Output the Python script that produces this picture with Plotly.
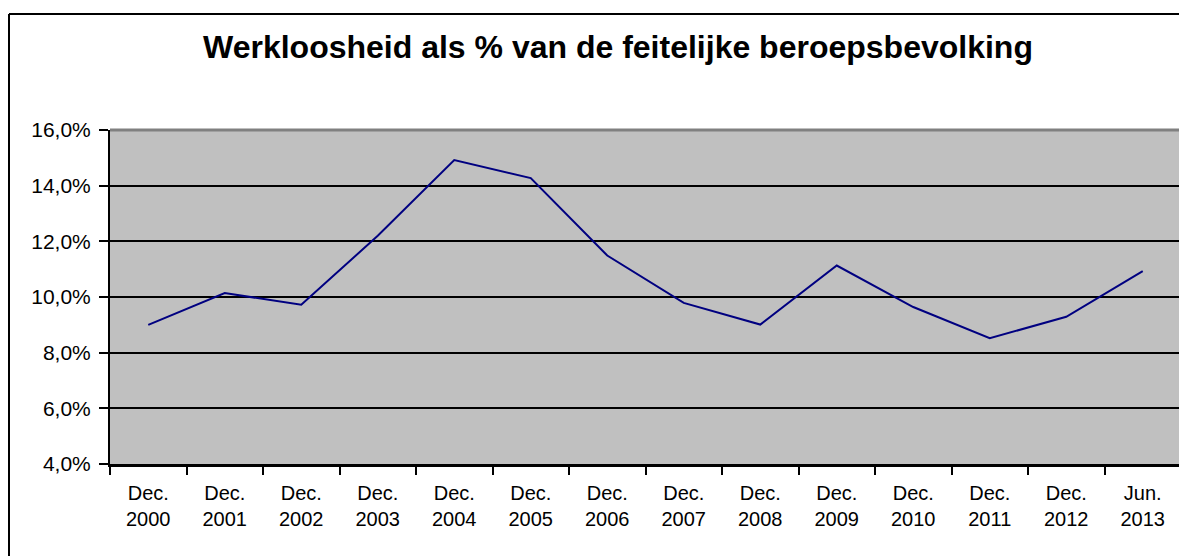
import plotly.graph_objects as go

periods = ["Dec.<br>2000", "Dec.<br>2001", "Dec.<br>2002", "Dec.<br>2003", "Dec.<br>2004",
           "Dec.<br>2005", "Dec.<br>2006", "Dec.<br>2007", "Dec.<br>2008", "Dec.<br>2009",
           "Dec.<br>2010", "Dec.<br>2011", "Dec.<br>2012", "Jun.<br>2013"]
unemployment_pct = [9.0, 10.14, 9.72, 12.2, 14.92, 14.27, 11.49, 9.79, 9.01, 11.13,
                    9.64, 8.52, 9.29, 10.93]
y_ticks = [4, 6, 8, 10, 12, 14, 16]
y_tick_labels = ["4,0%", "6,0%", "8,0%", "10,0%", "12,0%", "14,0%", "16,0%"]
title_text = "Werkloosheid als % van de feitelijke beroepsbevolking"

FONT = "Liberation Sans, Arial, sans-serif"

# page body has an 8px margin, so the figure is sized/positioned to compensate
W, H = 1179, 548
L, R, T, B = 102, 6, 122, 92
pw, ph = W - L - R, H - T - B

fig = go.Figure()
fig.add_trace(go.Scatter(
    x=periods, y=unemployment_pct, mode="lines",
    line=dict(color="#000080", width=2), hoverinfo="skip", showlegend=False,
))

fx = (1 - L) / pw          # outer frame left edge (paper coords)
fy = (ph + T - 6) / ph     # outer frame top edge (paper coords)

fig.update_layout(
    width=W, height=H,
    margin=dict(l=L, r=R, t=T, b=B, autoexpand=False),
    paper_bgcolor="white", plot_bgcolor="#C0C0C0",
    font=dict(family=FONT, color="black", size=20),
    title=dict(text="<b>" + title_text + "</b>", font=dict(family=FONT, size=32, color="black"),
               xref="container", x=610 / W, xanchor="center",
               yref="container", y=1 - 28 / H, yanchor="top"),
    xaxis=dict(
        type="category", range=[-0.5, len(periods) - 0.5],
        tickson="boundaries", ticks="outside", ticklen=8, tickwidth=2, tickcolor="black",
        showline=True, linecolor="black", linewidth=3, mirror=False,
        showgrid=False, tickfont=dict(size=20, family=FONT, color="black"),
        ticklabelstandoff=9, fixedrange=True,
    ),
    yaxis=dict(
        range=[4, 16], tickvals=y_ticks, ticktext=y_tick_labels,
        ticks="outside", ticklen=9, tickwidth=2, tickcolor="black",
        showline=True, linecolor="black", linewidth=2,
        showgrid=True, gridcolor="black", gridwidth=2, zeroline=False,
        tickfont=dict(size=21, family=FONT, color="black"),
        ticklabelstandoff=4, fixedrange=True,
    ),
    shapes=[
        # plot area border (top/right, gray)
        dict(type="line", xref="paper", yref="paper", x0=0, x1=1, y0=1, y1=1,
             line=dict(color="#808080", width=3), layer="above"),
        dict(type="line", xref="paper", yref="paper", x0=1, x1=1, y0=0, y1=1,
             line=dict(color="#808080", width=2), layer="above"),
        # outer chart frame (left/top visible)
        dict(type="line", xref="paper", yref="paper",
             x0=fx, x1=1.2, y0=fy, y1=fy, line=dict(color="black", width=2)),
        dict(type="line", xref="paper", yref="paper",
             x0=fx, x1=fx, y0=fy, y1=-0.5, line=dict(color="black", width=2)),
    ],
)

fig.write_html("out.html")
